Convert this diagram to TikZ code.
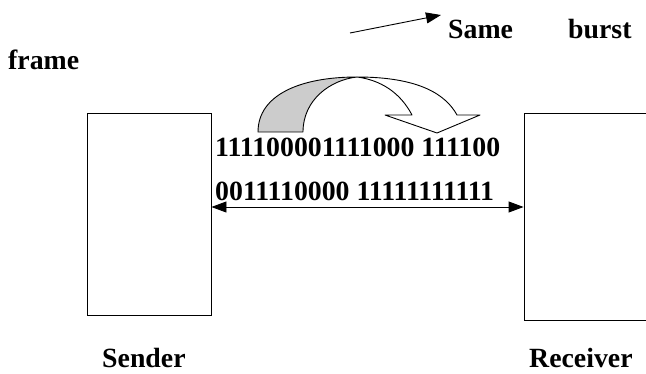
\documentclass[tikz,border=0pt]{standalone}
\usepackage{fontspec}
\setmainfont{Liberation Serif}
\usetikzlibrary{arrows.meta}
\definecolor{ribbongray}{HTML}{CCCCCC}

\begin{document}
\begin{tikzpicture}[
    x=1pt, y=-1pt,
    station/.style={draw, line width=0.9pt, inner sep=0pt},
    word/.style={anchor=base west, inner sep=0pt, font=\fontsize{27.8}{32}\selectfont\bfseries},
    link/.style={{Triangle[length=15pt,width=11pt]}-{Triangle[length=15pt,width=11pt]}, line width=0.9pt},
    pointer/.style={-{Triangle[length=15pt,width=11pt]}, line width=0.9pt},
    ribbon/.style={draw, line width=0.9pt, line join=round}
]
\useasboundingbox (0,0) rectangle (646,374);
\clip (0,0) rectangle (646,374);

% Sender and receiver
\node[station, minimum width=124pt, minimum height=202pt] (sender) at (149,214) {};
\node[station, minimum width=136pt, minimum height=207pt] (receiver) at (592,216.5) {};
\node[word] (sendlbl) at (102,368) {Sender};
\node[word] (recvlbl) at (529,368) {Receiver};

% Heading text
\node[word] (frame) at (8,70) {frame};
\node[word] (same) at (448,39) {Same};
\node[word] (burst) at (568,39) {burst};
\coordinate (tail) at (350,33);
\coordinate (tip) at (441,15);
\draw[pointer] (tail) -- (tip);

% Bit stream on the link
\node[word] (bits1) at (215,157) {111100001111000 111100};
\node[word] (bits2) at (215,201) {0011110000 11111111111};
\coordinate (lnk) at ([yshift=7pt]sender.east);
\draw[link] (lnk) -- (lnk -| receiver.west);

% Curved ribbon arrow over the bits
\filldraw[ribbon, fill=ribbongray] (258,132) .. controls (258,95) and (300,77) .. (357,77)
    .. controls (330,80) and (303,100) .. (303,132) -- cycle;
\filldraw[ribbon, fill=white] (357,77) .. controls (420,77) and (446,95) .. (457,115)
    -- (480,115) -- (437,133) -- (385,115) -- (412,115)
    .. controls (400,92) and (380,80) .. (357,77) -- cycle;
\end{tikzpicture}
\end{document}
